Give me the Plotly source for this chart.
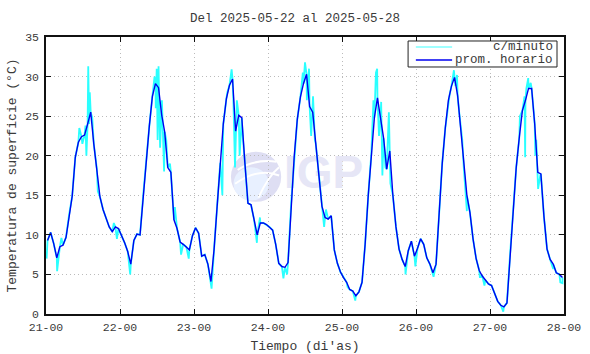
import plotly.graph_objects as go
import pandas as pd

# ---------------- data ----------------
start_time = "2025-05-21 00:00"

# hourly averages (prom. horario), one per hour starting 21-00
hourly_temp = [
    9.3, 10.3, 8.9, 7.1, 8.5, 8.7, 9.7, 12.6, 14.9, 19.8, 21.7, 22.4, 22.6, 24.0, 25.5, 21.5, 18.3, 14.8, 13.2, 12.0, 11.0, 10.4, 11.0, 10.8,
    10.0, 9.0, 7.9, 6.3, 9.3, 10.1, 10.0, 14.9, 19.9, 23.7, 27.5, 29.1, 28.6, 25.2, 23.0, 18.5, 17.9, 11.9, 10.8, 9.1, 8.8, 8.5, 8.1, 9.9,
    10.9, 10.2, 7.3, 7.5, 6.3, 4.1, 8.1, 13.6, 19.1, 24.0, 27.2, 28.9, 29.7, 23.1, 25.1, 24.8, 19.1, 14.0, 13.8, 11.9, 10.0, 11.5, 11.5, 11.3,
    11.0, 10.6, 8.8, 6.4, 6.0, 5.9, 6.5, 14.0, 19.9, 24.6, 27.4, 29.1, 30.3, 26.2, 25.5, 21.5, 17.6, 13.6, 12.2, 12.0, 12.4, 8.1, 6.4, 5.3,
    4.6, 4.0, 3.1, 2.9, 2.3, 2.8, 4.0, 8.8, 14.9, 20.2, 24.8, 27.3, 24.8, 22.2, 18.3, 20.6, 15.0, 11.0, 8.2, 6.9, 6.0, 8.0, 9.2, 7.3,
    8.3, 9.5, 8.8, 7.1, 6.3, 5.2, 6.3, 12.5, 19.0, 23.5, 27.0, 28.8, 29.9, 27.6, 23.3, 18.5, 15.0, 12.8, 9.5, 7.0, 5.5, 4.8, 4.3, 3.8,
    3.6, 2.6, 1.6, 1.1, 0.9, 1.4, 7.5, 12.8, 18.5, 22.3, 25.7, 27.0, 28.5, 28.5, 24.0, 17.9, 17.7, 12.3, 8.2, 6.9, 6.3, 5.2, 5.0, 4.6,
]

# per-minute excursions (hours since 21-00, value)
minute_peak_hours = [
    0.2, 3.6, 5.0, 10.8, 11.8, 12.8, 13.1, 13.7, 14.0, 14.2, 15.0, 16.8, 22.0, 23.0,
    27.3, 35.2, 35.6, 35.9, 36.2, 36.5, 37.0, 37.6, 38.3, 39.0, 40.2, 41.8, 43.8, 46.3,
    53.7, 57.2, 58.8, 60.2, 60.8, 61.3, 61.9, 62.8, 63.8, 68.4, 69.4,
    77.0, 78.2, 83.3, 84.0, 84.6, 85.3, 86.0, 86.6, 87.2, 90.2, 90.8, 97.8, 100.3,
    106.2, 107.0, 107.4, 108.0, 108.7, 109.1, 110.1, 111.2, 111.7, 116.6, 119.8,
    125.7, 130.9, 132.3, 132.8, 133.3, 134.0, 135.0, 136.5, 140.7, 142.2,
    148.3, 153.7, 155.2, 155.4, 155.8, 156.4, 157.2, 157.9, 158.3, 158.7, 159.0, 159.6, 160.3, 162.0, 164.5, 166.8, 167.5,
]
minute_peak_values = [
    7.0, 5.4, 9.6, 23.5, 21.5, 23.8, 20.0, 31.3, 24.0, 28.0, 24.8, 15.5, 11.5, 9.5,
    5.0, 30.0, 26.0, 31.0, 22.0, 31.3, 21.0, 27.0, 18.0, 22.0, 19.0, 13.5, 7.5, 7.0,
    3.2, 15.0, 28.0, 30.9, 26.5, 18.5, 27.0, 20.0, 22.5, 9.0, 12.2,
    4.5, 5.0, 30.5, 31.8, 27.0, 31.0, 22.5, 27.5, 22.0, 11.0, 13.2, 3.4, 1.7,
    27.0, 30.5, 31.0, 22.5, 26.8, 17.5, 18.5, 25.5, 16.5, 5.0, 6.0,
    4.7, 27.7, 30.8, 28.8, 30.2, 25.5, 22.0, 13.0, 4.7, 3.6,
    0.3, 25.0, 27.5, 19.8, 28.5, 29.8, 29.2, 26.0, 25.0, 20.0, 22.0, 15.8, 17.5, 10.0, 5.7, 4.0, 3.9,
]

x_tick_labels = ["21-00", "22-00", "23-00", "24-00", "25-00", "26-00", "27-00", "28-00"]
y_tick_values = [0, 5, 10, 15, 20, 25, 30, 35]

title_text = "Del 2025-05-22 al 2025-05-28"
y_title = "Temperatura de superficie (°C)"
x_title = "Tiempo (di'as)"
name_minute = "c/minuto"
name_hourly = "prom. horario"

# ---------------- build ----------------
t0 = pd.Timestamp(start_time)
hourly_h = [h + 0.5 for h in range(len(hourly_temp))]
hourly_x = [t0 + pd.Timedelta(hours=h) for h in hourly_h]

merged = sorted(list(zip(hourly_h, hourly_temp)) + list(zip(minute_peak_hours, minute_peak_values)))
minute_x = [t0 + pd.Timedelta(hours=h) for h, _ in merged]
minute_y = [v for _, v in merged]

tick_vals = [t0 + pd.Timedelta(days=i) for i in range(len(x_tick_labels))]

FONT = "Liberation Mono, Courier New, monospace"
TXT = "#3a3a3a"
CYAN = "#2affff"
BLUE = "#0000f0"

fig = go.Figure()

# watermark text (drawn first so lines go over it)
fig.add_trace(go.Scatter(
    x=[t0 + pd.Timedelta(hours=90)], y=[17.4], mode="text", text=["IGP"],
    textfont=dict(family="Liberation Sans, Arial, sans-serif", size=46, color="#e6e6f6", weight="bold"),
    showlegend=False, hoverinfo="skip",
))

fig.add_trace(go.Scatter(
    x=minute_x, y=minute_y, mode="lines", name=name_minute,
    line=dict(color=CYAN, width=1.8), showlegend=False,
))
fig.add_trace(go.Scatter(
    x=hourly_x, y=hourly_temp, mode="lines", name=name_hourly,
    line=dict(color=BLUE, width=1.4), showlegend=False,
))

# watermark logo circle
fig.add_shape(type="circle", xref="paper", yref="paper",
              x0=0.357, x1=0.454, y0=0.405, y1=0.586,
              fillcolor="#dedef3", line=dict(width=0), layer="below")
fig.add_shape(type="circle", xref="paper", yref="paper",
              x0=0.362, x1=0.43, y0=0.41, y1=0.53,
              fillcolor="#e8f0ff", line=dict(width=0), layer="below")
fig.add_shape(type="path", xref="paper", yref="paper",
              path="M 0.37 0.52 Q 0.40 0.56 0.445 0.55",
              line=dict(color="white", width=2), layer="below")
fig.add_shape(type="path", xref="paper", yref="paper",
              path="M 0.365 0.47 Q 0.41 0.53 0.45 0.50",
              line=dict(color="white", width=2), layer="below")
fig.add_shape(type="path", xref="paper", yref="paper",
              path="M 0.41 0.42 Q 0.43 0.50 0.45 0.53",
              line=dict(color="white", width=2), layer="below")

# legend box (drawn manually for gnuplot-like compact layout)
fig.add_shape(type="rect", xref="paper", yref="paper",
              x0=0.699, x1=0.9865, y0=0.8917, y1=0.9856,
              fillcolor="white", line=dict(color="#222222", width=1), layer="above")
for yv, col, nm in [(0.9639, "#7fffff", name_minute), (0.9170, BLUE, name_hourly)]:
    fig.add_shape(type="line", xref="paper", yref="paper",
                  x0=0.714, x1=0.784, y0=yv, y1=yv,
                  line=dict(color=col, width=1.4), layer="above")
    fig.add_annotation(xref="paper", yref="paper", x=0.9835, y=yv,
                       xanchor="right", yanchor="middle", text=nm, showarrow=False,
                       font=dict(family=FONT, size=12.5, color=TXT))

fig.update_layout(
    width=590, height=354,
    margin=dict(l=46, r=26, t=37, b=40),
    paper_bgcolor="white", plot_bgcolor="white",
    font=dict(family=FONT, size=12, color=TXT),
    title=dict(text=title_text, x=0.5, xref="container", xanchor="center",
               y=1 - 18 / 354, yref="container", yanchor="middle",
               font=dict(family=FONT, size=12.5, color=TXT)),
    showlegend=False,
)

fig.update_xaxes(
    range=[t0, t0 + pd.Timedelta(days=7)],
    tickvals=tick_vals, ticktext=x_tick_labels,
    showgrid=True, gridcolor="#bbbbbb", griddash="1px,3px", gridwidth=1,
    showline=True, linecolor="#111111", linewidth=1.5, mirror="allticks",
    ticks="inside", ticklen=5, tickcolor="#111111",
    tickfont=dict(family=FONT, size=11.5, color=TXT), ticklabelstandoff=1,
    title=dict(text=x_title, font=dict(family=FONT, size=13, color=TXT), standoff=8),
    zeroline=False, automargin=False,
)
fig.update_yaxes(
    range=[0, 35], tickvals=y_tick_values,
    showgrid=True, gridcolor="#bbbbbb", griddash="1px,3px", gridwidth=1,
    showline=True, linecolor="#111111", linewidth=1.5, mirror="allticks",
    ticks="inside", ticklen=5, tickcolor="#111111",
    tickfont=dict(family=FONT, size=11.5, color=TXT), ticklabelstandoff=3,
    title=dict(text=y_title, font=dict(family=FONT, size=13, color=TXT), standoff=6),
    zeroline=False, automargin=False,
)

fig.write_html("out.html")
